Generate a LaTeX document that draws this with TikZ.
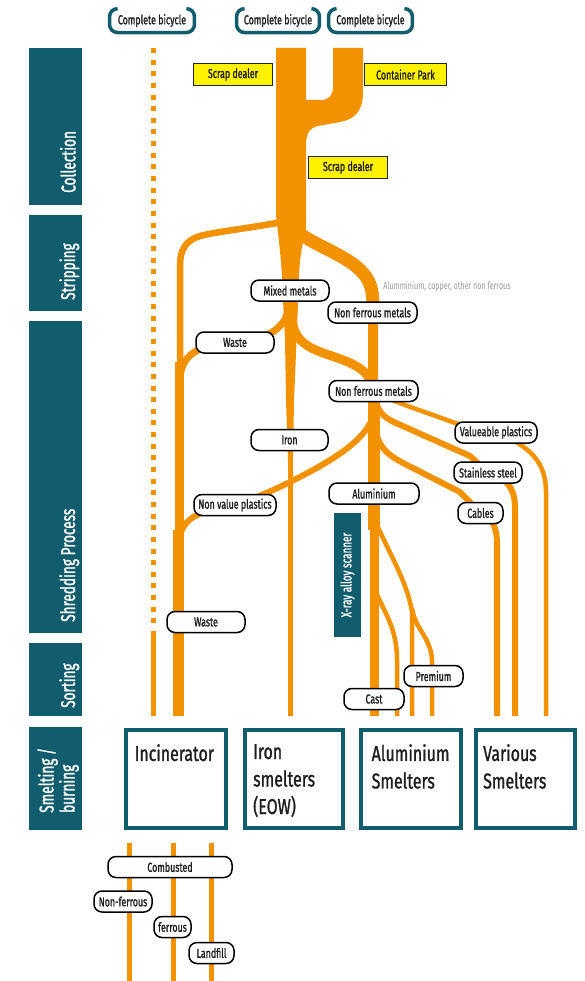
\documentclass[tikz,border=0pt]{standalone}
\usepackage{fontspec}
\setmainfont{Fira Sans}
\newfontfamily\tagfont{Fira Sans}[FakeStretch=0.68, FakeBold=1.2]
\newfontfamily\notefont{Fira Sans}[FakeStretch=0.68]
\newfontfamily\bigfont{Fira Sans}[FakeStretch=0.74, FakeBold=1.2]
\definecolor{petrol}{HTML}{125D6D}
\definecolor{flowor}{HTML}{F39200}
\definecolor{dealerfill}{HTML}{FFF200}
\definecolor{notegrey}{HTML}{9B9B9B}
\definecolor{ink}{HTML}{1E1E1E}
\pgfdeclarelayer{paper}
\pgfdeclarelayer{flows}
\pgfsetlayers{paper,flows,main}
\tikzset{
  flow/.style={draw=flowor, line cap=butt, line join=round},
  tag/.style={draw=black, line width=1.5pt, fill=white, rounded corners=8pt,
    minimum height=21pt, inner sep=0pt, text=ink,
    font=\tagfont\fontsize{13}{13}\selectfont},
  dealer/.style={draw=black!85, line width=1.3pt, fill=dealerfill,
    minimum height=22pt, inner sep=0pt, text=ink,
    font=\tagfont\fontsize{13}{13}\selectfont},
  bike/.style={draw=petrol, line width=3.5pt, rounded corners=8pt},
  biketext/.style={minimum height=23.5pt, inner sep=0pt, text=ink,
    font=\tagfont\fontsize{13}{13}\selectfont},
  phase/.style={fill=petrol, inner sep=0pt, minimum width=53pt},
  phasetext/.style={text=white, rotate=90, inner sep=0pt, align=left,
    font=\tagfont\fontsize{20}{21}\selectfont},
  sink/.style={draw=petrol, line width=4pt, inner sep=0pt},
  sinktext/.style={anchor=north west, inner sep=0pt, align=left, text=ink,
    font=\bigfont\fontsize{21.5}{27.5}\selectfont},
}
\begin{document}
\begin{tikzpicture}[x=1pt, y=-1pt]
\useasboundingbox (0,0) rectangle (585,981);
\begin{pgfonlayer}{paper}
  \fill[white] (0,0) rectangle (585,981);
\end{pgfonlayer}

% ---------- phase column ----------
\node[phase, minimum height=157pt] (collection) at (55.5,126.5) {};
\node[phase, minimum height=96pt]  (stripping)  at (55.5,263) {};
\node[phase, minimum height=312pt] (shredding)  at (55.5,477) {};
\node[phase, minimum height=73pt]  (sorting)    at (55.5,679.5) {};
\node[phase, minimum height=103pt] (smelting)   at (55.5,778.5) {};
\node[phasetext, anchor=base west] at (75.5,193) {Collection};
\node[phasetext, anchor=base west] at (75,300) {Stripping};
\node[phasetext, anchor=base west] at (75,622) {Shredding Process};
\node[phasetext, anchor=base west] at (75,708) {Sorting};
\node[phasetext, anchor=south west] at (79,813) {Smelting /\\burning};

% ---------- sources ----------
\node[biketext, minimum width=84.5pt] (bike1) at (152,20.6) {Complete bicycle};
\node[biketext, minimum width=82.5pt] (bike2) at (278,20.6) {Complete bicycle};
\node[biketext, minimum width=83.5pt] (bike3) at (370.5,20.6) {Complete bicycle};
\foreach \b in {bike1,bike2,bike3}{
  \draw[bike] ([xshift=8pt]\b.north west) -- (\b.north west) -- (\b.south west)
    -- (\b.south east) -- (\b.north east) -- ([xshift=-8pt]\b.north east);
}

% ---------- collection points ----------
\node[dealer, minimum width=79pt] (dealerA) at (233,74.5) {Scrap dealer};
\node[dealer, minimum width=82pt] (park) at (405.5,74.5) {Container Park};
\node[dealer, minimum width=79pt] (dealerB) at (348,167.5) {Scrap dealer};

% ---------- fractions ----------
\node[tag, minimum width=78pt] (mixed)     at (290,290.5) {Mixed metals};
\node[tag, minimum width=89pt] (nfA)       at (372.5,312.5) {Non ferrous metals};
\node[tag, minimum width=78pt] (wasteA)    at (235,342.5) {Waste};
\node[tag, minimum width=89pt] (nfB)       at (373.5,391) {Non ferrous metals};
\node[tag, minimum width=77pt] (iron)      at (289.5,440) {Iron};
\node[tag, minimum width=82pt] (valplast)  at (496,432.5) {Valueable plastics};
\node[tag, minimum width=68pt] (stainless) at (488,472.5) {Stainless steel};
\node[tag, minimum width=45pt] (cables)    at (480.5,513) {Cables};
\node[tag, minimum width=90pt] (alu)       at (374,493.5) {Aluminium};
\node[tag, minimum width=82pt] (nvplast)   at (235,505) {Non value plastics};
\node[tag, minimum width=78pt] (wasteB)    at (206,622) {Waste};
\node[tag, minimum width=60pt] (cast)      at (374,699) {Cast};
\node[tag, minimum width=59pt] (premium)   at (433.5,676) {Premium};
\node[text=notegrey, inner sep=0pt, font=\notefont\fontsize{10.5}{10.5}\selectfont]
  (note) at (447,287) {Alumminium, copper, other non ferrous};
\node[fill=petrol, rotate=90, minimum width=124pt, minimum height=27pt,
  inner sep=0pt, text=white, font=\tagfont\fontsize{14.5}{14.5}\selectfont]
  (xray) at (347.5,575) {X-ray alloy scanner};

% ---------- end stations ----------
\node[sink, minimum width=100pt, minimum height=98pt] (incin) at (176,779) {};
\node[sink, minimum width=98pt,  minimum height=98pt] (ironsm) at (294,779) {};
\node[sink, minimum width=100pt, minimum height=98pt] (alusm) at (411,779) {};
\node[sink, minimum width=99pt,  minimum height=98pt] (varsm) at (525.5,779) {};
\node[sinktext] at (134.5,744) {Incinerator};
\node[sinktext] at (253,744) {Iron\\smelters\\(EOW)};
\node[sinktext] at (371.5,744) {Aluminium\\Smelters};
\node[sinktext] at (483,744) {Various\\Smelters};

% ---------- residues of the incinerator ----------
\node[tag, minimum width=124pt] (combusted)  at (170,867) {Combusted};
\node[tag, minimum width=58pt]  (nonferrous) at (123,901.5) {Non-ferrous};
\node[tag, minimum width=37pt]  (ferrous)    at (172.5,927) {ferrous};
\node[tag, minimum width=45pt]  (landfill)   at (211.5,953) {Landfill};

% ---------- material streams ----------
\begin{pgfonlayer}{flows}
  % merged collection trunk, tapering into the iron stream
  \fill[flowor] (276,48) -- (306,48) -- (306,100) -- (321,100)
    .. controls (329,100) and (333,95) .. (333,87) -- (333,48) -- (363,48)
    -- (363,92) .. controls (363,116) and (350,121) .. (334,123)
    -- (318,126) .. controls (309,128) and (306,134) .. (306,146)
    -- (306,228) .. controls (303,240) and (300,255) .. (299,275)
    -- (297,330) -- (294,400) -- (293,460) -- (293,716)
    -- (288,716) -- (288,460) -- (286,400) -- (285,340) -- (283,300)
    .. controls (282,260) and (278,235) .. (276,215) -- cycle;

  % non ferrous stream
  \draw[flow, line width=13pt] (297,232) .. controls (322,249) and (348,256) .. (363,273)
    .. controls (371,282) and (373,292) .. (373,306);
  \draw[flow, line width=10pt] (373,300) -- (373,396);
  \draw[flow, line width=12pt] (374,390) -- (374,530);
  \draw[flow, line width=9pt]  (374,524) -- (374,716);
  \draw[flow, line width=9pt] (293,325) .. controls (298,350) and (325,352) .. (348,362)
    .. controls (366,370) and (373,378) .. (374,398);

  % waste stream to the incinerator
  \draw[flow, line width=6.5pt] (282,222) .. controls (250,228) and (215,232) .. (200,236)
    .. controls (186,240) and (180,250) .. (180,265) -- (180,372);
  \draw[flow, line width=8.5pt] (179.5,362) -- (179.5,540);
  \draw[flow, line width=11pt]  (178.5,530) -- (178.5,716);
  \draw[flow, line width=7pt] (288,310) .. controls (285,330) and (262,341) .. (wasteA.center)
    .. controls (205,345) and (182,350) .. (180,378);
  \draw[flow, line width=6pt] (374,413) .. controls (368,440) and (330,462) .. (290,482)
    .. controls (270,492) and (255,498) .. (nvplast.center)
    .. controls (205,510) and (181,515) .. (179,542);

  % bicycles sent straight to the incinerator
  \draw[flow, line width=5pt, dash pattern=on 5pt off 6.64pt] (153.5,48) -- (153.5,625);
  \draw[flow, line width=5pt] (153.5,631) -- (153.5,716);

  % fractions to the various smelters
  \draw[flow, line width=4.5pt] (376,392) .. controls (390,401) and (420,410) .. (455,423)
    -- (valplast.center) .. controls (530,446) and (546,462) .. (546,492) -- (546,716);
  \draw[flow, line width=6pt] (376,402) .. controls (380,418) and (392,421) .. (405,427)
    -- (470,456) -- (stainless.center) .. controls (505,478) and (515,486) .. (515,508)
    -- (515,716);
  \draw[flow, line width=6pt] (376,432) .. controls (380,450) and (390,456) .. (405,464)
    -- (460,492) -- (cables.center) .. controls (492,518) and (497,526) .. (497,545)
    -- (497,716);

  % aluminium alloys after the scanner
  \draw[flow, line width=4.5pt] (375,520) .. controls (386,548) and (407,580) .. (412,612)
    -- (412,716);
  \draw[flow, line width=4.5pt] (412,608) .. controls (415,630) and (432,638) .. (432,662)
    -- (432,716);
  \draw[flow, line width=4.5pt] (376,592) .. controls (384,612) and (397,628) .. (397,660)
    -- (397,716);

  % incinerator outputs
  \draw[flow, line width=5pt] (129.5,843) -- (129.5,981);
  \draw[flow, line width=5pt] (173.5,843) -- (173.5,981);
  \draw[flow, line width=5pt] (211.5,843) -- (211.5,981);
\end{pgfonlayer}
\end{tikzpicture}
\end{document}
